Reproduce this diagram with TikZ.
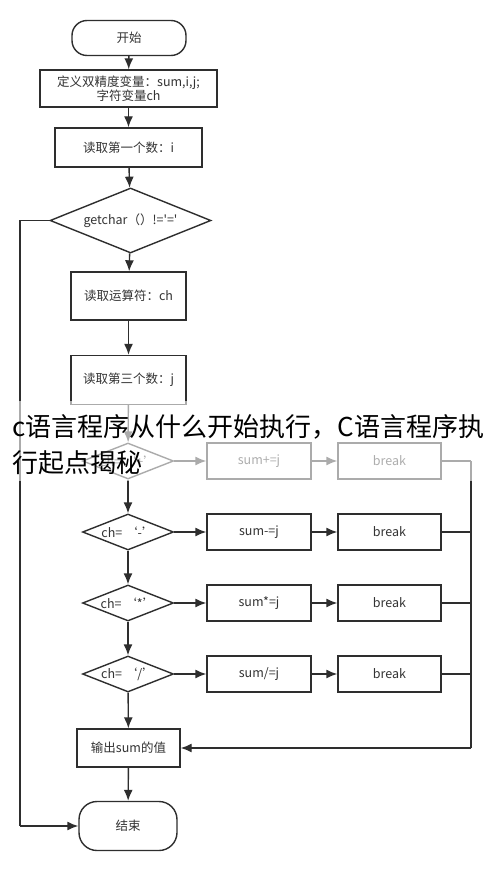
\documentclass[tikz,border=0pt]{standalone}
\usepackage{fontspec}
\setmainfont{Noto Sans CJK SC}
\usetikzlibrary{shapes.geometric,arrows.meta}
\definecolor{ln}{HTML}{2E2E2E}
\definecolor{tx}{HTML}{333333}
\tikzset{
  base/.style={draw=ln, line width=1.4pt, text=tx, font=\fontsize{12.5}{14.5}\selectfont, align=center, inner sep=0pt},
  procbox/.style={base, rectangle},
  termbox/.style={base, rectangle, rounded corners=15pt},
  decbox/.style={base, diamond},
  lbl/.style={text=tx, font=\fontsize{12.5}{14.5}\selectfont, inner sep=0pt},
  conn/.style={draw=ln, line width=1.4pt, -{Latex[length=11pt,width=9pt]}},
  plain/.style={draw=ln, line width=1.4pt},
  wm/.style={anchor=west, inner sep=0pt, text=black, font=\fontsize{26}{29}\selectfont}
}
\newcommand{\sq}{\textquotesingle}
\begin{document}
\begin{tikzpicture}[x=1pt,y=-1pt]
\useasboundingbox[fill=white] (0,0) rectangle (490,869);
% nodes
\node[termbox, minimum width=114pt, minimum height=35pt] (start) at (129,38) {开始};
\node[procbox, minimum width=177pt, minimum height=37pt] (def) at (128.5,88.5) {定义双精度变量：sum,i,j;\\字符变量ch};
\node[procbox, minimum width=147pt, minimum height=39pt] (rd1) at (128.5,147.5) {读取第一个数：i};
\node[decbox, minimum width=161pt, minimum height=65pt] (d0) at (130.5,220.5) {};
\node[lbl] (d0t) at (d0) {getchar（）!=\sq=\sq};
\node[procbox, minimum width=115pt, minimum height=48pt] (rdop) at (128.5,296) {读取运算符：ch};
\node[procbox, minimum width=115pt, minimum height=49pt] (rd3) at (128.5,380) {读取第三个数：j};
\node[decbox, minimum width=91pt, minimum height=36pt] (d1) at (128,461) {};
\node[lbl] (d1t) at (d1) {ch=~‘+’};
\node[procbox, minimum width=104pt, minimum height=36pt] (s1) at (259,461) {sum+=j};
\node[procbox, minimum width=103pt, minimum height=36pt] (b1) at (389.5,461) {break};
\node[decbox, minimum width=91pt, minimum height=36pt] (d2) at (128,532) {};
\node[lbl] (d2t) at (d2) {ch=~‘-’};
\node[procbox, minimum width=104pt, minimum height=36pt] (s2) at (259,532) {sum-=j};
\node[procbox, minimum width=103pt, minimum height=36pt] (b2) at (389.5,532) {break};
\node[decbox, minimum width=91pt, minimum height=36pt] (d3) at (128,603) {};
\node[lbl] (d3t) at (d3) {ch=~‘*’};
\node[procbox, minimum width=104pt, minimum height=36pt] (s3) at (259,603) {sum*=j};
\node[procbox, minimum width=103pt, minimum height=36pt] (b3) at (389.5,603) {break};
\node[decbox, minimum width=91pt, minimum height=36pt] (d4) at (128,674) {};
\node[lbl] (d4t) at (d4) {ch=~‘/’};
\node[procbox, minimum width=104pt, minimum height=36pt] (s4) at (259,674) {sum/=j};
\node[procbox, minimum width=103pt, minimum height=36pt] (b4) at (389.5,674) {break};
\node[procbox, minimum width=103pt, minimum height=38pt] (out) at (128.5,748) {输出sum的值};
\node[termbox, rounded corners=18pt, minimum width=98pt, minimum height=49pt] (end) at (128,826) {结束};
% helper coordinates
\coordinate (r1) at (471,461);
\coordinate (r2) at (471,532);
\coordinate (r3) at (471,603);
\coordinate (r4) at (471,674);
\coordinate (r5) at (471,748);
\coordinate (l1) at (20,220.5);
\coordinate (l2) at (20,826);
% connectors
\path[conn] (start) -- (def);
\path[conn] (def) -- (rd1);
\path[conn] (rd1) -- (d0);
\path[conn] (d0) -- (rdop);
\path[conn] (rdop) -- (rd3);
\path[conn] (rd3) -- (d1);
\path[conn] (d1) -- (d2);
\path[conn] (d2) -- (d3);
\path[conn] (d3) -- (d4);
\path[conn] (d4) -- (out);
\path[conn] (out) -- (end);
\foreach \i in {1,2,3,4}{
  \path[conn] (d\i) -- (s\i);
  \path[conn] (s\i) -- (b\i);
  \path[plain] (b\i) -- (r\i);
}
\path[plain] (r1) -- (r5);
\path[conn] (r5) -- (out);
\path[plain] (d0.west) -- (l1) -- (l2);
\path[conn] (l2) -- (end);
% fading band behind the overlaid title
\fill[white, opacity=0.6] (0,401) rectangle (490,481);
\node[wm] (t1) at (12,427) {c语言程序从什么开始执行，C语言程序执};
\node[wm] (t2) at (12,463) {行起点揭秘};
\end{tikzpicture}
\end{document}
